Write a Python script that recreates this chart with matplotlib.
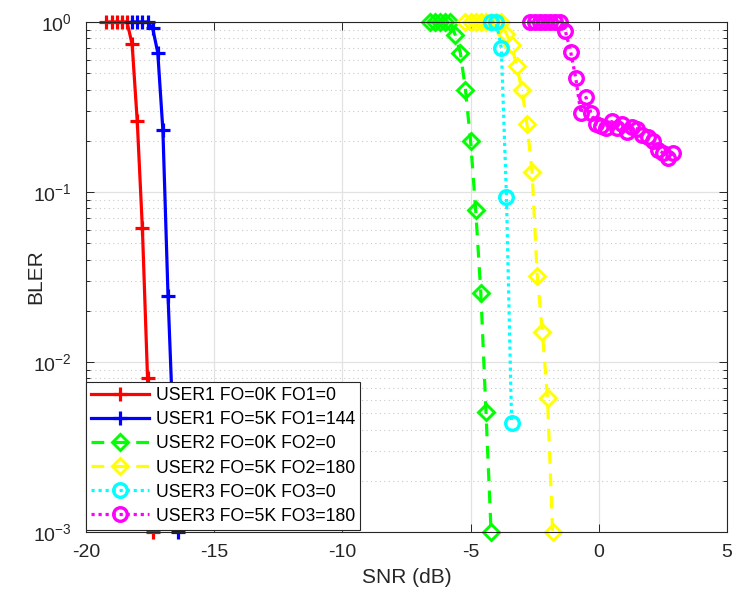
import matplotlib
matplotlib.use("Agg")
import matplotlib.pyplot as plt
from matplotlib.ticker import FixedLocator, LogLocator, NullFormatter

# data (SNR in dB, BLER)
snr_u1_0k = [-19.2, -19.0, -18.8, -18.6, -18.4, -18.2, -18.0, -17.8, -17.6, -17.4]
bler_u1_0k = [1, 1, 1, 1, 1, 0.74, 0.26, 0.061, 0.0081, 0.001]

snr_u1_5k = [-18.2, -18.0, -17.8, -17.6, -17.4, -17.2, -17.0, -16.8, -16.6, -16.4]
bler_u1_5k = [1, 1, 1, 1, 0.92, 0.66, 0.23, 0.0245, 0.004, 0.001]

snr_u2_0k = [-6.6, -6.4, -6.2, -6.0, -5.8, -5.6, -5.4, -5.2, -5.0, -4.8, -4.6, -4.4, -4.2]
bler_u2_0k = [1, 1, 1, 1, 1, 0.84, 0.66, 0.40, 0.20, 0.078, 0.0255, 0.0051, 0.001]

snr_u2_5k = [-5.2, -5.0, -4.8, -4.6, -4.4, -4.2, -4.0, -3.8, -3.6, -3.4, -3.2, -3.0,
             -2.8, -2.6, -2.4, -2.2, -2.0, -1.8]
bler_u2_5k = [1, 1, 1, 1, 1, 1, 1, 1, 0.85, 0.73, 0.55, 0.40,
              0.25, 0.131, 0.032, 0.015, 0.0061, 0.001]

snr_u3_0k = [-4.2, -4.0, -3.8, -3.6, -3.4]
bler_u3_0k = [1, 1, 0.70, 0.093, 0.0044]

snr_u3_5k = [-2.7, -2.5, -2.3, -2.1, -1.9, -1.7, -1.5, -1.3, -1.1, -0.9, -0.7, -0.5,
             -0.3, -0.1, 0.1, 0.3, 0.5, 0.7, 0.9, 1.1, 1.3, 1.5, 1.7, 1.9, 2.1, 2.3,
             2.5, 2.7, 2.9]
bler_u3_5k = [1, 1, 1, 1, 1, 1, 1, 0.88, 0.67, 0.47, 0.29, 0.36,
              0.29, 0.25, 0.245, 0.237, 0.26, 0.237, 0.25, 0.226, 0.24, 0.235, 0.216, 0.21, 0.20, 0.177,
              0.17, 0.158, 0.169]

labels = ["USER1 FO=0K FO1=0", "USER1 FO=5K FO1=144",
          "USER2 FO=0K FO2=0", "USER2 FO=5K FO2=180",
          "USER3 FO=0K FO3=0", "USER3 FO=5K FO3=180"]
x_ticks = [-20, -15, -10, -5, 0, 5]
y_ticks = [1e-3, 1e-2, 1e-1, 1e0]
y_tick_labels = [r"$\mathregular{10^{-3}}$", r"$\mathregular{10^{-2}}$",
                 r"$\mathregular{10^{-1}}$", r"$\mathregular{10^{0}}$"]

plt.rcParams["font.family"] = ["Liberation Sans", "DejaVu Sans"]
plt.rcParams["axes.unicode_minus"] = False
plt.rcParams["mathtext.fontset"] = "custom"
plt.rcParams["mathtext.rm"] = "Liberation Sans"

axcol = "#262626"
fig = plt.figure(figsize=(7.33, 5.94), dpi=100)
ax = fig.add_axes([0.1173, 0.1044, 0.8745, 0.8586])

lw = 2.3
dash = (0, (4, 3))
dot = (0, (1, 1.2))

ax.plot(snr_u1_0k, bler_u1_0k, color="#ff0000", ls="-", lw=lw, marker="+", ms=9.5, mew=2.3,
        label=labels[0], clip_on=False)
ax.plot(snr_u1_5k, bler_u1_5k, color="#0000ff", ls="-", lw=lw, marker="+", ms=9.5, mew=2.3,
        label=labels[1], clip_on=False)
ax.plot(snr_u2_0k, bler_u2_0k, color="#00ff00", ls=dash, lw=lw, marker="D", ms=7.8, mew=2.1,
        mfc="none", label=labels[2], clip_on=False)
ax.plot(snr_u2_5k, bler_u2_5k, color="#ffff00", ls=dash, lw=lw, marker="D", ms=7.8, mew=2.1,
        mfc="none", label=labels[3], clip_on=False)
ax.plot(snr_u3_0k, bler_u3_0k, color="#00ffff", ls=dot, lw=lw, marker="o", ms=9.8, mew=2.4,
        mfc="none", label=labels[4], clip_on=False)
ax.plot(snr_u3_5k, bler_u3_5k, color="#ff00ff", ls=dot, lw=lw, marker="o", ms=9.8, mew=2.4,
        mfc="none", label=labels[5], clip_on=False)

ax.set_yscale("log")
ax.set_xlim(-20, 5)
ax.set_ylim(1e-3, 1)
ax.xaxis.set_major_locator(FixedLocator(x_ticks))
ax.set_yticks(y_ticks)
ax.set_yticklabels(y_tick_labels)
ax.yaxis.set_minor_locator(LogLocator(base=10, subs=range(2, 10)))
ax.yaxis.set_minor_formatter(NullFormatter())

ax.grid(True, which="major", color="#e2e2e2", lw=0.9, ls="-")
ax.grid(True, which="minor", axis="y", color="#cacaca", lw=0.8, ls=(0, (1, 3)))
ax.set_axisbelow(True)

ax.tick_params(which="both", direction="in", top=True, right=True, colors=axcol,
               labelsize=14, width=0.7)
ax.tick_params(which="major", length=6)
ax.tick_params(which="minor", length=3)
ax.tick_params(axis="x", which="major", pad=9)
ax.tick_params(axis="y", which="major", pad=10)
for s in ax.spines.values():
    s.set_color(axcol)
    s.set_linewidth(0.8)

ax.set_xlabel("SNR (dB)", fontsize=15, color=axcol, va="center")
ax.set_ylabel("BLER", fontsize=15, color=axcol, va="center")
ax.xaxis.set_label_coords(0.5, -0.09)
ax.yaxis.set_label_coords(-0.078, 0.5)

leg = ax.legend(loc="lower left", bbox_to_anchor=(0, 0.004), borderaxespad=0,
                fontsize=12.7, handlelength=3.3, handletextpad=0.35, labelspacing=0.4,
                borderpad=0.3, fancybox=False, framealpha=1, edgecolor=axcol)
leg.get_frame().set_linewidth(0.8)
for t in leg.get_texts():
    t.set_color("#000000")

fig.savefig("out.png", dpi=100)
